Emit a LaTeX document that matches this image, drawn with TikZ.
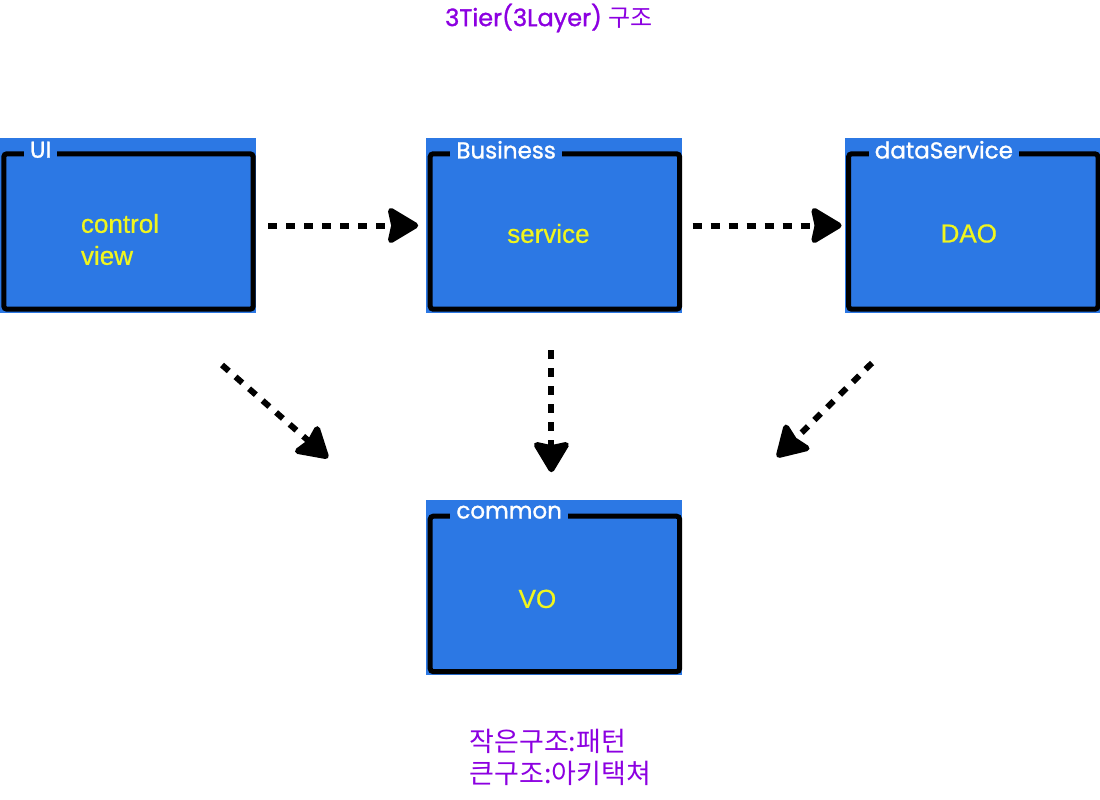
\documentclass[tikz,border=0pt]{standalone}
\usepackage{fontspec}
\setmainfont{Liberation Sans}[FakeBold=0.6]
\newfontfamily\krfont{Noto Sans CJK KR}
\newfontfamily\lblfont{Poppins}[FakeBold=1.2]
\usetikzlibrary{arrows.meta,positioning,calc}

\definecolor{boxblue}{RGB}{44,120,228}
\definecolor{textyellow}{RGB}{240,245,30}
\definecolor{notepurple}{RGB}{140,0,225}

\tikzset{
  layer/.style={fill=boxblue, minimum width=256pt, minimum height=175pt, inner sep=0pt},
  frame/.style={draw=black, line width=5pt, rounded corners=3pt},
  tag/.style={fill=boxblue, text=white, inner xsep=6pt, inner ysep=1pt, anchor=west,
    font=\lblfont\fontsize{23}{26}\selectfont},
  content/.style={text=textyellow, align=left, font=\fontsize{26}{32}\selectfont},
  dotarrow/.style={line width=6pt, dash pattern=on 9pt off 9pt,
    arrows={-Stealth[length=34pt,width=40pt,inset=4pt,round]}},
  note/.style={text=notepurple}
}

\begin{document}
\begin{tikzpicture}[x=1pt,y=-1pt]
\useasboundingbox (0,0) rectangle (1100,800);

\node[note, font=\fontsize{24}{28}\selectfont] (title) at (549,18)
  {{\lblfont 3Tier(3Layer)} {\krfont 구조}};

\node[layer] (ui) at (128,225.5) {};
\node[layer, right =170pt of ui] (bus) {};
\node[layer, right =162pt of bus] (ds) {};
\node[layer, below =187pt of bus] (common) {};

\draw[frame] ($(ui.north west)+(4,16)$) rectangle ($(ui.south east)+(-3,-4)$);
\draw[frame] ($(bus.north west)+(4,16)$) rectangle ($(bus.south east)+(-3,-4)$);
\draw[frame] ($(ds.north west)+(4,16)$) rectangle ($(ds.south east)+(-3,-4)$);
\draw[frame] ($(common.north west)+(4,16)$) rectangle ($(common.south east)+(-3,-4)$);

\node[tag] (uitag) at ($(ui.north west)+(24,12)$) {UI};
\node[tag] (bustag) at ($(bus.north west)+(24,12)$) {Business};
\node[tag] (dstag) at ($(ds.north west)+(24,12)$) {dataService};
\node[tag] (commontag) at ($(common.north west)+(24,12)$) {common};

\node[content] (uitext) at ($(ui.center)+(-8,14)$) {control\\view};
\node[content] (bustext) at ($(bus.center)+(-6,8)$) {service};
\node[content] (dstext) at ($(ds.center)+(-4,8)$) {DAO};
\node[content] (commontext) at ($(common.center)+(-17,11)$) {VO};

% dependencies
\draw[dotarrow, shorten <=12pt, shorten >=8pt] (ui.east) -- (bus.west);
\draw[dotarrow, shorten <=10pt, shorten >=3pt] (bus.east) -- (ds.west);
\draw[dotarrow, shorten <=37pt, shorten >=28pt] ($(bus.south)+(-3,0)$) -- ($(common.north)+(-3,0)$);

\coordinate (uitail) at (222,365);
\coordinate (uihead) at (328,458);
\coordinate (dstail) at (872,363);
\coordinate (dshead) at (777,457);
\draw[dotarrow] (uitail) -- (uihead);
\draw[dotarrow] (dstail) -- (dshead);

\node[note, anchor=west, align=left, font=\krfont\fontsize{27}{32}\selectfont] (memo) at (466,757)
  {작은구조:패턴\\큰구조:아키택쳐};

\end{tikzpicture}
\end{document}
